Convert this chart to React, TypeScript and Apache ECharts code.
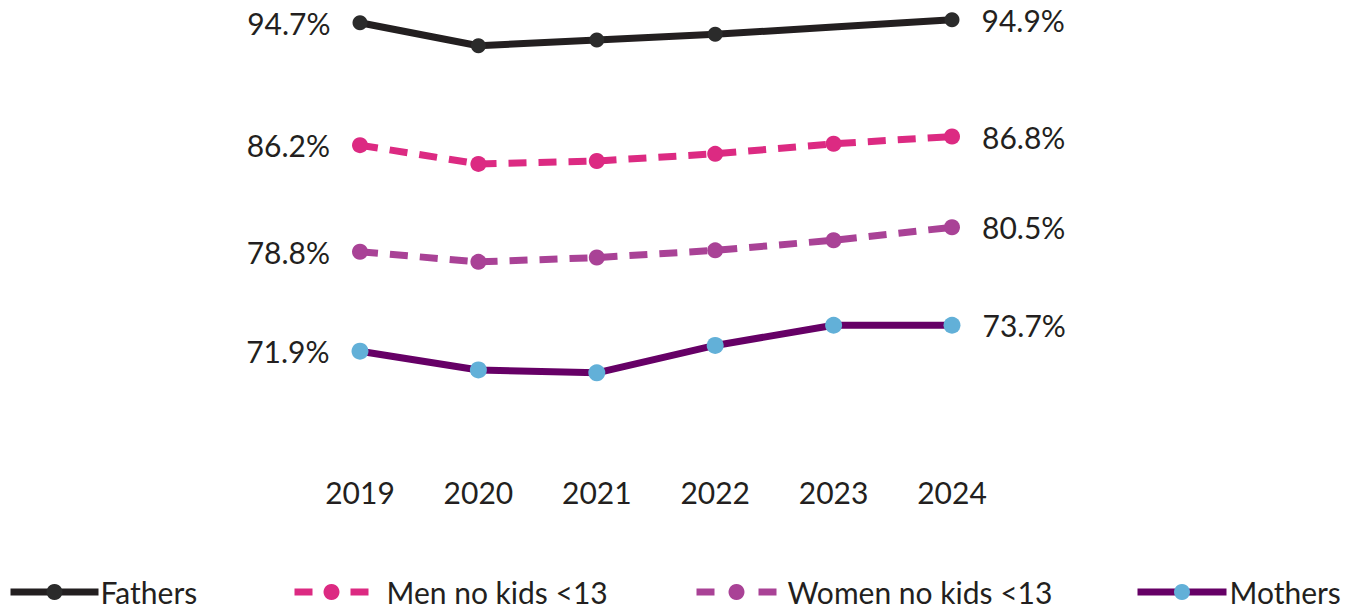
import React, { useEffect, useRef } from "react";
import * as echarts from "echarts";

const years = ["2019", "2020", "2021", "2022", "2023", "2024"];
const fathers = [94.7, 93.1, 93.5, 93.9, 94.4, 94.9];
const menNoKids = [86.2, 84.9, 85.1, 85.6, 86.3, 86.8];
const womenNoKids = [78.8, 78.1, 78.4, 78.9, 79.6, 80.5];
const mothers = [71.9, 70.6, 70.4, 72.3, 73.7, 73.7];

const TEXT = "#231f20";
const FONT = "Lato";

function withEndLabels(values: number[], hideIdx: number[] = []) {
  return values.map((v, i) => {
    const item: any = { value: v };
    if (i === 0) item.label = { show: true, position: "left", distance: 22 };
    if (i === values.length - 1) item.label = { show: true, position: "right", distance: 22 };
    if (hideIdx.includes(i)) item.symbol = "none";
    return item;
  });
}

export default function App() {
  const ref = useRef<HTMLDivElement>(null);
  useEffect(() => {
    if (!ref.current) return;
    const chart = echarts.init(ref.current, null, { renderer: "svg" });
    const labelStyle = {
      show: false,
      formatter: "{c}%",
      fontFamily: FONT,
      fontSize: 30,
      color: TEXT,
    };
    const legendBase = {
      top: 572,
      itemHeight: 20,
      textStyle: { fontFamily: FONT, fontSize: 30, color: TEXT },
      selectedMode: false,
    };
    chart.setOption({
      animation: false,
      grid: { left: 360, right: 420, top: 4, bottom: 144 },
      xAxis: {
        type: "category",
        data: years,
        boundaryGap: false,
        axisLine: { show: false },
        axisTick: { show: false },
        axisLabel: { fontFamily: FONT, fontSize: 30, color: TEXT, margin: 12 },
      },
      yAxis: {
        type: "value",
        min: 64,
        max: 96,
        show: false,
        splitLine: { show: false },
      },
      legend: [
        {
          ...legendBase,
          data: ["Fathers"],
          left: 2,
          itemWidth: 88,
          textStyle: { ...legendBase.textStyle, padding: [0, 0, 0, -3] },
          lineStyle: { width: 7 },
        },
        {
          ...legendBase,
          data: ["Men no kids <13"],
          left: 286,
          itemWidth: 74,
          textStyle: { ...legendBase.textStyle, padding: [0, 0, 0, 13] },
          lineStyle: { width: 7, type: [18, 38] },
        },
        {
          ...legendBase,
          data: ["Women no kids <13"],
          left: 688,
          itemWidth: 80,
          textStyle: { ...legendBase.textStyle, padding: [0, 0, 0, 6] },
          lineStyle: { width: 7, type: [18, 44] },
        },
        {
          ...legendBase,
          data: ["Mothers"],
          left: 1129,
          itemWidth: 89,
          textStyle: { ...legendBase.textStyle, padding: [0, 0, 0, -2] },
          lineStyle: { width: 7 },
        },
      ],
      series: [
        {
          name: "Fathers",
          type: "line",
          data: withEndLabels(fathers, [4]),
          symbol: "circle",
          symbolSize: 15,
          lineStyle: { color: TEXT, width: 7 },
          itemStyle: { color: "#2b2b2b" },
          label: labelStyle,
        },
        {
          name: "Men no kids <13",
          type: "line",
          data: withEndLabels(menNoKids),
          symbol: "circle",
          symbolSize: 16,
          lineStyle: { color: "#dc2a82", width: 7, type: [18, 12] },
          itemStyle: { color: "#dc2a82" },
          label: labelStyle,
        },
        {
          name: "Women no kids <13",
          type: "line",
          data: withEndLabels(womenNoKids),
          symbol: "circle",
          symbolSize: 16,
          lineStyle: { color: "#a94296", width: 7, type: [18, 12] },
          itemStyle: { color: "#a94296" },
          label: labelStyle,
        },
        {
          name: "Mothers",
          type: "line",
          data: withEndLabels(mothers),
          symbol: "circle",
          symbolSize: 17,
          lineStyle: { color: "#660066", width: 7 },
          itemStyle: { color: "#62b0d8" },
          label: labelStyle,
        },
      ],
    });
    return () => chart.dispose();
  }, []);
  return (
    <div
      ref={ref}
      style={{ position: "fixed", left: 0, top: 0, width: 1372, height: 609, background: "#fff" }}
    />
  );
}
